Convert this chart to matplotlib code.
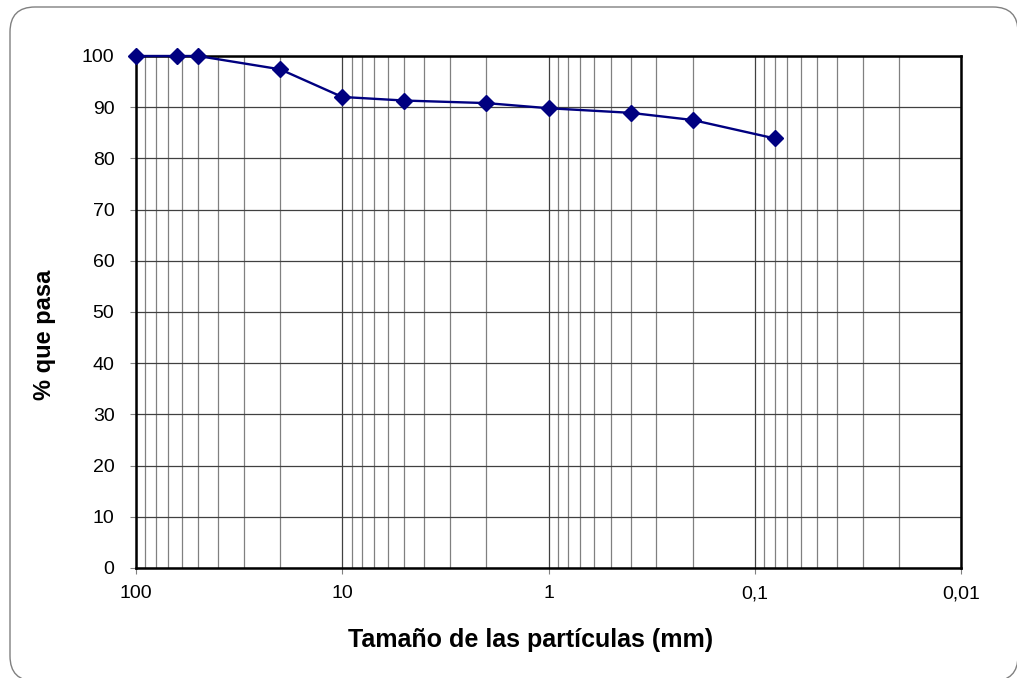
import numpy as np
import matplotlib
matplotlib.use("Agg")
import matplotlib.pyplot as plt
import matplotlib.ticker as mticker
from matplotlib.patches import FancyBboxPatch
from matplotlib.transforms import IdentityTransform

plt.rcParams['font.family'] = ['Liberation Sans', 'DejaVu Sans']

# ---data---
tamano = [100, 63, 50, 20, 10, 5, 2, 1, 0.4, 0.2, 0.08]
pasa = [100, 100, 100, 97.4, 92.0, 91.3, 90.8, 89.8, 88.9, 87.5, 83.9]
xticks = [100, 10, 1, 0.1, 0.01]
xticklabels = ["100", "10", "1", "0,1", "0,01"]
yticks = list(range(0, 101, 10))

W, H = 1017, 678
fig = plt.figure(figsize=(W / 100, H / 100), dpi=100)

# rounded frame around the chart (pixel coords, origin bottom-left)
frame = FancyBboxPatch((10, H - 681), 1008, 674,
                       boxstyle="round,pad=0,rounding_size=25",
                       transform=IdentityTransform(), facecolor="none",
                       edgecolor="#808080", linewidth=1.0, clip_on=False)
fig.patches.append(frame)

ax = fig.add_axes([136 / W, 110 / H, 825 / W, 512 / H])
ax.set_xscale("log")
ax.set_xlim(100, 0.01)
ax.set_ylim(0, 100)

ax.plot(tamano, pasa, color="#000080", linewidth=1.7, marker="D",
        markersize=8, clip_on=False, zorder=5)

ax.set_xticks(xticks)
ax.set_xticklabels(xticklabels)
ax.xaxis.set_minor_locator(mticker.LogLocator(base=10, subs=np.arange(2, 10)))
ax.xaxis.set_minor_formatter(mticker.NullFormatter())
ax.set_yticks(yticks)

ax.grid(which="major", axis="both", color="#404040", linewidth=0.9)
ax.grid(which="minor", axis="x", color="#808080", linewidth=0.9)
ax.set_axisbelow(True)

ax.tick_params(axis="both", which="major", direction="out", length=4.5,
               width=0.8, color="#808080", labelsize=14)
ax.tick_params(axis="y", pad=11)
ax.tick_params(axis="x", pad=8)
ax.tick_params(axis="x", which="minor", length=0)
for s in ax.spines.values():
    s.set_linewidth(1.8)
    s.set_color("black")

ax.set_xlabel("Tamaño de las partículas (mm)", fontsize=18, fontweight="bold",
              va="center")
ax.xaxis.set_label_coords((531 - 136) / 825, (568 - 640) / 512)
ax.set_ylabel("% que pasa", fontsize=17, fontweight="bold", va="center")
ax.yaxis.set_label_coords((45 - 136) / 825, (568 - 335) / 512)

fig.savefig("out.png", dpi=100)
